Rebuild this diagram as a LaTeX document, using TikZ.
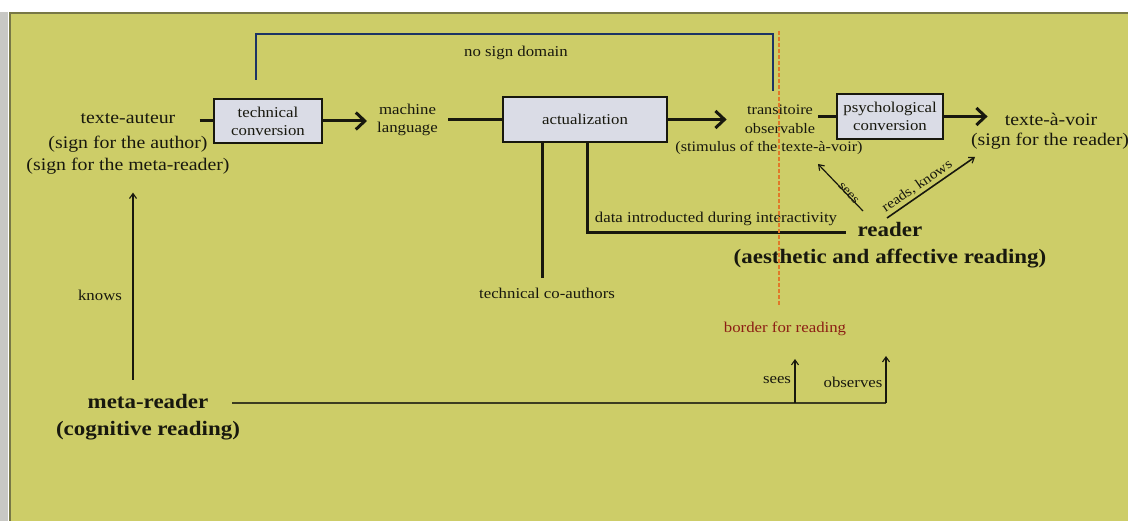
\documentclass[tikz,border=0pt]{standalone}
\usepackage{fontspec}
\setmainfont{Liberation Serif}[FakeStretch=1.12]
\usetikzlibrary{arrows.meta}
\definecolor{bg}{RGB}{205,205,104}
\definecolor{framegray}{RGB}{200,200,196}
\definecolor{frameline}{RGB}{120,120,70}
\definecolor{boxfill}{RGB}{218,220,230}
\definecolor{ink}{RGB}{24,24,14}
\definecolor{navy}{RGB}{28,52,100}
\definecolor{borderline}{RGB}{225,120,40}
\definecolor{borderred}{RGB}{140,30,20}
\begin{document}
\begin{tikzpicture}[x=1pt,y=-1pt,
  every node/.style={text=ink, inner sep=0pt, align=center},
  big/.style={font=\fontsize{17.7}{22.5}\selectfont},
  mid/.style={font=\fontsize{14.5}{19}\selectfont},
  small/.style={font=\fontsize{15}{18}\selectfont},
  bold/.style={font=\fontsize{20.5}{27}\selectfont\bfseries},
  procbox/.style={draw=ink, fill=boxfill, line width=1.5pt, font=\fontsize{15}{18}\selectfont},
  flow/.style={draw=ink, line width=3pt},
  flowarrow/.style={flow, -{Straight Barb[length=9pt,width=17pt,line width=3pt]}},
  thinarrow/.style={draw=ink, line width=1.2pt, -{Straight Barb[length=5pt,width=7pt,line width=1.1pt]}},
  thinline/.style={draw=ink!80!bg, line width=1.3pt}
]
\useasboundingbox (0,0) rectangle (1128,521);
% frame
\fill[white] (0,0) rectangle (1128,521);
\fill[framegray] (0,12) rectangle (8,521);
\fill[bg] (10,13) rectangle (1128,521);
\draw[frameline, line width=2pt] (10,521) -- (10,13) -- (1128,13);

% nodes
\node[big] (ta) at (128,119) {texte-auteur};
\node[big] (ta2) at (128,155) {(sign for the author)\\(sign for the meta-reader)};
\node[procbox, minimum width=108pt, minimum height=44pt] (tc) at (268,121) {technical\\conversion};
\node[small] (ml) at (407.5,120) {machine\\language};
\node[procbox, minimum width=164pt, minimum height=45pt] (act) at (585,119.5) {actualization};
\node[mid] (tr) at (780,119) {transitoire\\observable};
\node[mid] (stim) at (769,147.5) {(stimulus of the texte-à-voir)};
\node[procbox, minimum width=106pt, minimum height=45pt] (ps) at (890,116.5) {psychological\\conversion};
\node[big] (tv) at (1051,119) {texte-à-voir};
\node[big] (tv2) at (1050,141) {(sign for the reader)};

\node[small] (nsd) at (516,53) {no sign domain};
\node[small] (tca) at (547,293) {technical co-authors};
\node[small] (data) at (716,219) {data introducted during interactivity};
\node[bold] (rd) at (890,245) {reader\\(aesthetic and affective reading)};
\node[bold] (mr) at (148,417) {meta-reader\\(cognitive reading)};
\node[small] (kn) at (100,295) {knows};
\node[small, text=borderred] (bfr) at (785,329) {border for reading};
\node[small] (sees) at (777,380) {sees};
\node[small] (obs) at (853,382) {observes};

% helper coordinates
\coordinate (kx) at (133,0);
\coordinate (cx) at (542,0);
\coordinate (d0) at (587,233);
\coordinate (d1) at (846,233);
\coordinate (nsA) at (256,80);
\coordinate (nsB) at (256,34);
\coordinate (nsC) at (773,34);
\coordinate (nsD) at (773,91);
\coordinate (bTop) at (779,31);
\coordinate (bBot) at (779,306);
\coordinate (s1) at (863,211);
\coordinate (s2) at (818,164);
\coordinate (r1) at (887,218);
\coordinate (r2) at (975,157);
\coordinate (m0) at (232,403);
\coordinate (m1) at (795,403);
\coordinate (m2) at (886,403);
\coordinate (m1t) at (795,359);
\coordinate (m2t) at (886,356);

% main flow
\draw[flow, shorten <=24pt] (ta.east |- tc.west) -- (tc.west);
\draw[flowarrow, shorten >=10pt] (tc.east) -- (tc.east -| ml.west);
\draw[flow, shorten <=10pt] (ml.east |- act.west) -- (act.west);
\draw[flowarrow, shorten >=18pt] (act.east) -- (act.east -| tr.west);
\draw[flow, shorten <=3pt] (tr.east |- ps.west) -- (ps.west);
\draw[flowarrow, shorten >=17pt] (ps.east) -- (ps.east -| tv.west);

% below actualization
\draw[flow, shorten >=10pt] (act.south -| cx) -- (tca.north -| cx);
\draw[flow] (act.south -| d0) -- (d0) -- (d1);

% no sign domain
\draw[navy, line width=2.5pt] (nsA) -- (nsB) -- (nsC) -- (nsD);

% border for reading
\draw[borderline, line width=1.1pt, dash pattern=on 4pt off 2pt] (bTop) -- (bBot);

% reader arrows
\draw[thinarrow] (s1) -- node[pos=0.35, sloped, font=\fontsize{13}{15}\selectfont, above=-2pt] {sees} (s2);
\draw[thinarrow, line width=1.6pt] (r1) -- node[pos=0.4, sloped, font=\fontsize{14}{16}\selectfont, above=2pt] {reads, knows} (r2);

% knows
\draw[thinarrow, shorten <=14pt, shorten >=18pt] (mr.north -| kx) -- (ta2.south -| kx);

% meta-reader line
\draw[thinline] (m0) -- (m2);
\draw[thinarrow] (m1) -- (m1t);
\draw[thinarrow] (m2) -- (m2t);
\end{tikzpicture}
\end{document}
